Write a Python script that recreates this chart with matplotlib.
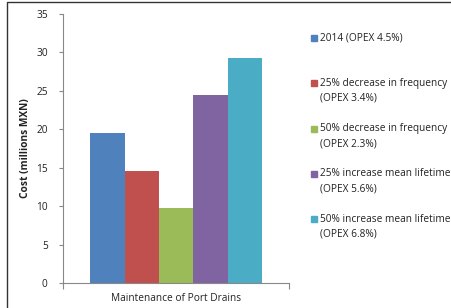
import matplotlib
matplotlib.use("Agg")
import matplotlib.pyplot as plt
from matplotlib.lines import Line2D
from matplotlib.patches import Rectangle

category = "Maintenance of Port Drains"
scenarios = [
    "2014 (OPEX 4.5%)",
    "25% decrease in frequency\n(OPEX 3.4%)",
    "50% decrease in frequency\n(OPEX 2.3%)",
    "25% increase mean lifetime\n(OPEX 5.6%)",
    "50% increase mean lifetime\n(OPEX 6.8%)",
]
costs = [19.5, 14.6, 9.7, 24.4, 29.3]
colors = ["#4F81BD", "#C0504D", "#9BBB59", "#8064A2", "#4BACC6"]

plt.rcParams["font.family"] = ["Open Sans", "DejaVu Sans"]
fig = plt.figure(figsize=(4.51, 3.08), dpi=100)
ax = fig.add_axes([0.1397, 0.0812, 0.5013, 0.8733])

# bar group centred on the single category
n = len(costs)
width = 0.152
offsets = [(i - (n - 1) / 2) * width for i in range(n)]
for off, val, col in zip(offsets, costs, colors):
    ax.bar(off, val, width=width, color=col, edgecolor="none")

ax.set_xlim(-0.5, 0.5)
ax.set_ylim(0, 35)
ax.set_yticks(range(0, 36, 5))
ax.set_xticks([-0.5, 0.5])
ax.set_xticklabels(["", ""])
ax.text(0.5, -0.038, category, transform=ax.transAxes, ha="center", va="top",
        fontsize=7.3, color="#222222")
ax.tick_params(axis="y", labelsize=7.3, length=3, color="#888888",
               labelcolor="#222222", pad=8)
ax.tick_params(axis="x", length=4, color="#888888")
for side in ["top", "right"]:
    ax.spines[side].set_visible(False)
for side in ["left", "bottom"]:
    ax.spines[side].set_color("#888888")
    ax.spines[side].set_linewidth(0.8)
ax.set_ylabel("Cost (millions MXN)", fontsize=7.3, fontweight="bold",
              color="#222222", labelpad=4)

# legend, drawn as equal slots like the original
for i, (lab, col) in enumerate(zip(scenarios, colors)):
    ytop = 1 - (35 + 45.3 * i) / 308
    fig.patches.append(Rectangle((311 / 451, ytop - 6 / 308), 6 / 451, 6 / 308,
                                 transform=fig.transFigure, color=col))
    fig.text(320 / 451, ytop + 2.5 / 308, lab, fontsize=7.3, color="#222222",
             va="top", ha="left", linespacing=1.5)

# chart frame: only left and top edges are visible in the crop
fig.lines.append(Line2D([7.5 / 451, 7.5 / 451, 1], [0, 1 - 1.5 / 308, 1 - 1.5 / 308],
                        transform=fig.transFigure, color="#333333", linewidth=1))
fig.savefig("out.png", dpi=100)
